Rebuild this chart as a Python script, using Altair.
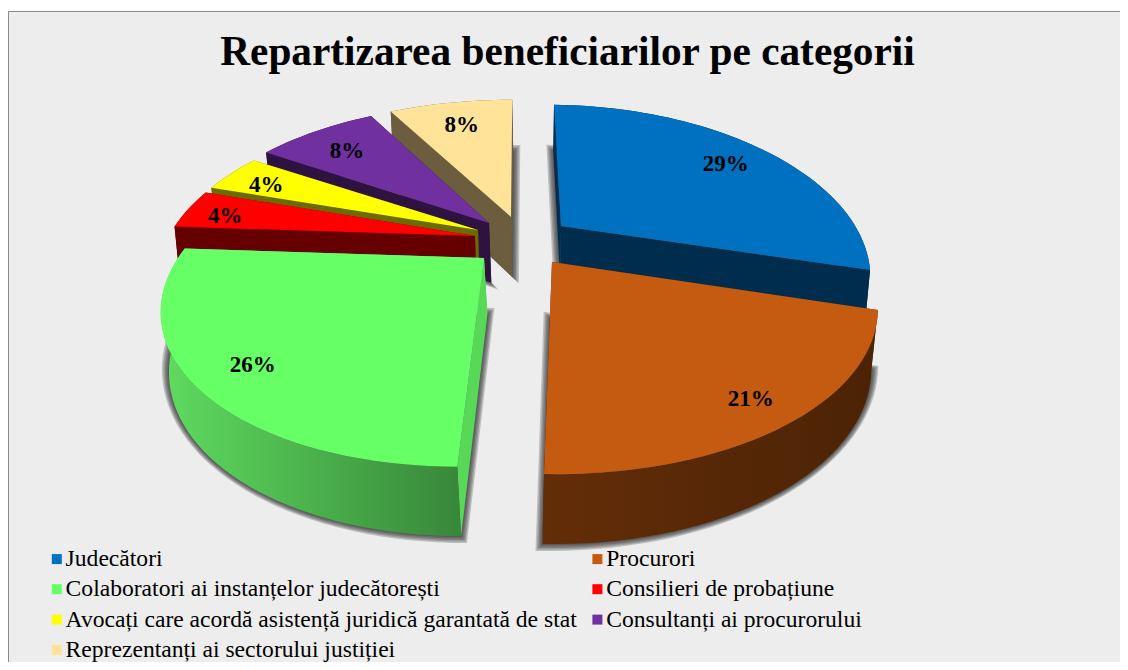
import math
import altair as alt

# ---- values ----
categories = [
    "Judecători",
    "Procurori",
    "Colaboratori ai instanțelor judecătorești",
    "Consilieri de probațiune",
    "Avocați care acordă asistență juridică garantată de stat",
    "Consultanți ai procurorului",
    "Reprezentanți ai sectorului justiției",
]
percent = [29, 21, 26, 4, 4, 8, 8]
TITLE = "Repartizarea beneficiarilor pe categorii"

# ---- styles ----
top_colors = ["#0070c0", "#c55a11", "#66ff66", "#ff0000", "#ffff00", "#7030a0", "#ffe399"]
wall_colors = ["#002d4e", "#4e2505", "#57d957", "#660000", "#6b6b00", "#2e1341", "#6b5d3e"]
SERIF = "Liberation Serif"

# ---- 3D view of each exploded slice (page layout, not data) ----
# apex x, apex y, half width, half depth, x-shear, y-shear, wall base, wall dx, label radius
view = [
    (553, 218, 296, 153, 8.8, 3.2, 41, 0, 0.81),
    (544, 254, 316, 156.5, -5.9, 6.2, 41, -1, 0.86),
    (476, 250, 306, 154, -19.7, 0, 41, 3, 0.835),
    (467, 228, 306, 152, 0, 0, 46, 1, 0.87),
    (470, 222, 303, 148, 0, 0, 46, 1, 0.85),
    (481, 215, 301, 150, 0, 0, 46.5, 2, 0.80),
    (503, 209, 310, 148, -1.6, 0, 46.5, 1, 0.80),
]
PERSP = 0.262
W, H = 1112, 654


def project(i, theta, r=1.0):
    ax, ay, b, a, s, t, *_ = view[i]
    X, Y = r * math.sin(theta), -r * math.cos(theta)
    w = 1 - PERSP * Y
    return (ax + (b * X + s * Y) / w, ay + (a * Y + t * X) / w)


def below(i, p):
    base, dx = view[i][6], view[i][7]
    return (p[0] + dx - 0.015 * (p[0] - 502), p[1] + base + 0.062 * p[1])


def feature(points, name):
    ring = [list(p) for p in points] + [list(points[0])]
    return {
        "type": "Feature",
        "properties": {"name": name},
        "geometry": {"type": "Polygon", "coordinates": [ring]},
    }


def shape(points, name="", **style):
    return (
        alt.Chart(alt.Data(values=[feature(points, name)]))
        .mark_geoshape(**style)
        .project(type="identity", scale=1, translate=[0, 0])
    )


def grad(c0, c1):
    return alt.Gradient(
        gradient="linear", x1=0, x2=1, y1=0, y2=0,
        stops=[alt.GradientStop(color=c0, offset=0), alt.GradientStop(color=c1, offset=1)],
    )


color_scale = alt.Scale(domain=categories, range=top_colors)
legend = alt.Legend(
    title=None, orient="none", legendX=37, legendY=539, columns=2, direction="horizontal",
    symbolType="square", symbolSize=100, symbolStrokeWidth=0, symbolOpacity=1,
    labelFont=SERIF, labelFontSize=23.6, labelColor="#000000", labelOffset=alt.ExprRef("-3"), labelLimit=700,
    rowPadding=5.4, columnPadding=8.6, padding=0, gridAlign="each",
)

# slice geometry from the values
angles, total = [], 0
for p in percent:
    angles.append((total / 100 * 2 * math.pi, (total + p) / 100 * 2 * math.pi))
    total += p

apexes, arcs = [], []
for i, (a0, a1) in enumerate(angles):
    n = max(4, int(math.degrees(a1 - a0) / 2))
    arcs.append([project(i, a0 + (a1 - a0) * k / n) for k in range(n + 1)])
    apexes.append(project(i, 0, 0))

layers = [
    shape([(0.5, 3.5), (W + 5, 3.5), (W + 5, H + 5), (0.5, H + 5)],
          fill="#ededed", stroke="#8a8a8a", strokeWidth=1)
]

# soft drop shadows
for i in range(len(percent)):
    base = [below(i, p) for p in [apexes[i]] + arcs[i]]
    xs, ys = [p[0] for p in base], [p[1] for p in base]
    cx, cy = (min(xs) + max(xs)) / 2, (min(ys) + max(ys)) / 2
    hw, hh = (max(xs) - min(xs)) / 2, (max(ys) - min(ys)) / 2
    for e in (7, 5.5, 4, 2.5, 1):
        grown = [(cx + (x - cx) * (1 + e / hw), cy + (y - cy) * (1 + e / hh)) for x, y in base]
        layers.append(shape(grown, fill="#2a2a2a", opacity=0.24, strokeWidth=0))

# slices, painted from the back to the front
outer_fill = {1: grad("#642d08", "#4b2305"), 2: grad("#5fdc5f", "#38873a")}
for i in [6, 5, 4, 3, 2, 0, 1]:
    apex, arc = apexes[i], arcs[i]
    wall = wall_colors[i]
    for side in (arc[0], arc[-1]):
        layers.append(shape([apex, side, below(i, side), below(i, apex)], fill=wall, strokeWidth=0))
    outer = arc + [below(i, p) for p in reversed(arc)]
    layers.append(shape(outer, fill=outer_fill.get(i, wall), strokeWidth=0))
    layers.append(
        shape([apex] + arc, categories[i], strokeWidth=0).encode(
            color=alt.Color("properties.name:N", scale=color_scale, legend=legend)
        )
    )

# percentage labels
labels = []
for i, (a0, a1) in enumerate(angles):
    x, y = project(i, (a0 + a1) / 2, view[i][8])
    labels.append({"x": x, "y": y, "label": f"{percent[i]}%"})
layers.append(
    alt.Chart(alt.Data(values=labels))
    .mark_text(font=SERIF, fontSize=23, fontWeight="bold", color="#000000",
               align="center", baseline="middle", dx=1, dy=3.5)
    .encode(x=alt.X("x:Q", scale=None, axis=None), y=alt.Y("y:Q", scale=None, axis=None), text="label:N")
)

chart = (
    alt.layer(*layers)
    .properties(
        width=W, height=H, padding=0, background="#ffffff",
        autosize=alt.AutoSizeParams(type="none"),
        title=alt.TitleParams(
            TITLE, font=SERIF, fontSize=41.3, fontWeight="bold", color="#000000",
            anchor="middle", frame="group", orient="top", offset=0, baseline="top", dy=65, dx=3.5,
        ),
    )
    .configure_view(strokeWidth=0)
)

chart.save("out.html", embed_options={"renderer": "svg", "actions": False})
